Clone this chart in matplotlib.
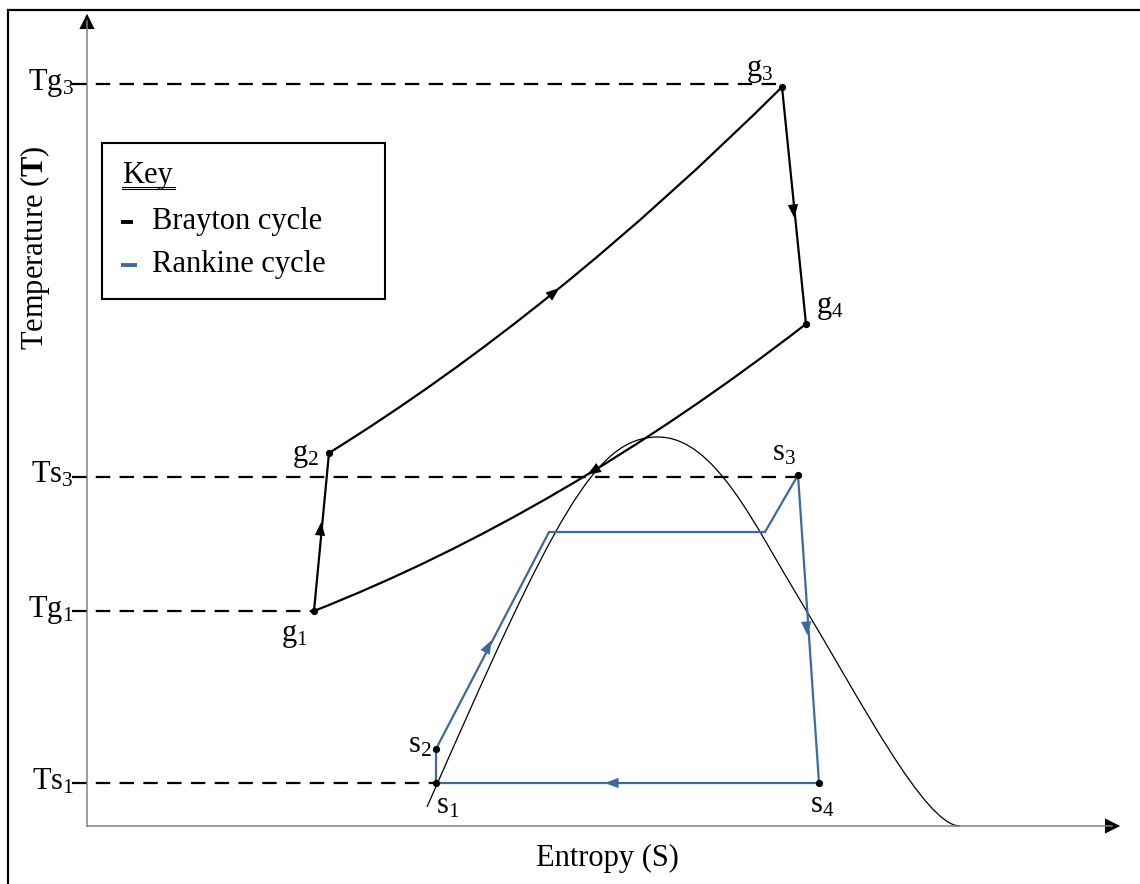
import numpy as np
import matplotlib
matplotlib.use("Agg")
import matplotlib.pyplot as plt
from matplotlib.path import Path
from matplotlib.patches import PathPatch, FancyArrowPatch, Rectangle

plt.rcParams['font.family'] = ['Liberation Serif', 'DejaVu Serif']
plt.rcParams['mathtext.fontset'] = 'custom'
plt.rcParams['mathtext.rm'] = 'Liberation Serif'
plt.rcParams['mathtext.bf'] = 'Liberation Serif:bold'
plt.rcParams['mathtext.it'] = 'Liberation Serif:italic'

# Puntos de estado (S, T)
brayton_names = ['g1', 'g2', 'g3', 'g4']
brayton_S = [22.7, 24.2, 69.5, 71.9]
brayton_T = [21.5, 37.3, 73.9, 50.2]
# puntos de control de las curvas g2->g3 y g4->g1 (bezier cuadratica)
ctrl_23 = (46.85, 51.36)
ctrl_41 = (47.3, 31.18)

rankine_names = ['s1', 's2', 's3', 's4']
rankine_S = [34.9, 34.9, 71.1, 73.2]
rankine_T = [4.3, 7.7, 35.1, 4.3]
# liquido saturado / vapor saturado
sat_S = [46.2, 67.8]
sat_T = [29.4, 29.4]

# campana de saturacion (beziers cubicas)
dome_S = [34.0, 46.8, 50.8, 57.1, 62.8, 66.8, 71.3, 77.3, 83.8, 87.3]
dome_T = [1.9, 31.1, 38.9, 38.9, 38.9, 30.0, 22.6, 12.7, 0.0, 0.0]

# lineas de referencia
ref_labels = ['Tg', 'Ts', 'Tg', 'Ts']
ref_sub = ['3', '3', '1', '1']
ref_T = [74.2, 34.9, 21.5, 4.3]
ref_end_S = [69.5, 71.1, 22.7, 34.9]

BLUE = '#3c6aa0'
LW = 1.6

fig = plt.figure(figsize=(11.4, 8.84), dpi=100)
ax = fig.add_axes([0, 0, 1, 1])
ax.set_xlim(-8.7, 105.3)
ax.set_ylim(-5.8, 82.6)
ax.axis('off')

# marco exterior
ax.add_patch(Rectangle((-7.85, -10), 120, 91.6, fill=False, lw=1.6,
                       edgecolor='black', clip_on=False))

# ejes con flecha
ax.plot([0, 0], [0, 80.5], color='#808080', lw=1.1)
ax.plot([0, 102.5], [0, 0], color='#808080', lw=1.1)
ax.add_patch(FancyArrowPatch((0, 79.5), (0, 81.5), arrowstyle='-|>,head_length=0.5,head_width=0.25',
                             mutation_scale=22, color='black', lw=0))
ax.add_patch(FancyArrowPatch((101.5, 0), (103.6, 0), arrowstyle='-|>,head_length=0.5,head_width=0.25',
                             mutation_scale=22, color='black', lw=0))

# lineas discontinuas
for lab, sub, t, s_end in zip(ref_labels, ref_sub, ref_T, ref_end_S):
    ax.plot([-1.5, s_end], [t, t], color='black', lw=1.6, dashes=(6.5, 4.2))
    ax.text(-1.3, t - 0.6, lab + r'$_{\mathregular{' + sub + '}}$', fontsize=22,
            ha='right', va='baseline')

# campana
verts = list(zip(dome_S, dome_T))
codes = [Path.MOVETO] + [Path.CURVE4] * 9
ax.add_patch(PathPatch(Path(verts, codes), fill=False, lw=0.9, edgecolor='black'))

# ciclo Brayton
g = list(zip(brayton_S, brayton_T))
ax.plot([g[0][0], g[1][0]], [g[0][1], g[1][1]], color='black', lw=LW)
ax.plot([g[2][0], g[3][0]], [g[2][1], g[3][1]], color='black', lw=LW)
ax.add_patch(PathPatch(Path([g[1], ctrl_23, g[2]], [Path.MOVETO, Path.CURVE3, Path.CURVE3]),
                       fill=False, lw=LW, edgecolor='black'))
ax.add_patch(PathPatch(Path([g[3], ctrl_41, g[0]], [Path.MOVETO, Path.CURVE3, Path.CURVE3]),
                       fill=False, lw=LW, edgecolor='black'))

# ciclo Rankine
r = list(zip(rankine_S, rankine_T))
path_S = [r[0][0], r[1][0], sat_S[0], sat_S[1], r[2][0], r[3][0], r[0][0]]
path_T = [r[0][1], r[1][1], sat_T[0], sat_T[1], r[2][1], r[3][1], r[0][1]]
ax.plot(path_S, path_T, color=BLUE, lw=LW, solid_joinstyle='miter')


def arrow_on(x, y, dx, dy, color):
    n = np.hypot(dx, dy)
    dx, dy = dx / n, dy / n
    ax.add_patch(FancyArrowPatch((x - dx * 1.0, y - dy * 1.0), (x + dx * 0.6, y + dy * 0.6),
                                 arrowstyle='-|>,head_length=0.45,head_width=0.17',
                                 mutation_scale=22, color=color, lw=0))


# flechas de direccion
arrow_on(23.4, 30.1, 1.5, 15.8, 'black')
arrow_on(47.0, 53.6, 1.0, 0.809, 'black')
arrow_on(70.7, 61.1, 2.4, -23.7, 'black')
arrow_on(50.3, 35.3, -1.0, -0.607, 'black')
arrow_on(40.3, 18.3, 11.3, 21.7, BLUE)
arrow_on(72.0, 19.4, 2.1, -30.8, BLUE)
arrow_on(52.1, 4.3, -1.0, 0.0, BLUE)

# puntos
ax.plot(brayton_S, brayton_T, 'o', color='black', ms=4.2, zorder=5)
ax.plot(rankine_S, rankine_T, 'o', color='black', ms=4.2, zorder=5)

# etiquetas de los puntos
b_off = [(-2.0, -2.4), (-2.3, -0.2), (-2.2, 1.6), (2.4, 1.6)]
for name, (s, t), (ox, oy) in zip(brayton_names, g, b_off):
    ax.text(s + ox, t + oy, name[0] + r'$_{\mathregular{' + name[1] + '}}$', fontsize=22,
            ha='center', va='center')
r_off = [(1.2, -2.3), (-1.6, 0.4), (-1.4, 2.2), (0.3, -2.2)]
for name, (s, t), (ox, oy) in zip(rankine_names, r, r_off):
    ax.text(s + ox, t + oy, name[0] + r'$_{\mathregular{' + name[1] + '}}$', fontsize=22,
            ha='center', va='center')

# titulos de ejes
ax.text(52.0, -3.2, 'Entropy (S)', fontsize=22, ha='center', va='center')
ax.text(-5.2, 57.8, r'Temperature ($\mathbf{T}$)', fontsize=22, ha='center', va='center',
        rotation=90)

# leyenda
ax.add_patch(Rectangle((1.5, 52.7), 28.3, 15.6, fill=False, lw=1.5, edgecolor='black'))
ax.text(3.5, 64.3, 'Key', fontsize=22, ha='left', va='baseline')
ax.plot([3.5, 8.8], [63.85, 63.85], color='black', lw=0.8)
ax.plot([3.5, 8.8], [63.65, 63.65], color='black', lw=0.8)
ax.plot([3.4, 4.6], [60.4, 60.4], color='black', lw=2.8, solid_capstyle='butt')
ax.text(6.5, 60.4, 'Brayton cycle', fontsize=22, ha='left', va='center')
ax.plot([3.4, 5.0], [56.1, 56.1], color=BLUE, lw=2.8, solid_capstyle='butt')
ax.text(6.5, 56.1, 'Rankine cycle', fontsize=22, ha='left', va='center')

fig.savefig('out.png', dpi=100)
